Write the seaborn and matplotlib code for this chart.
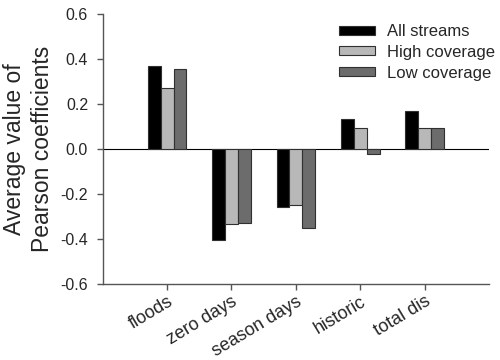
import matplotlib
matplotlib.use("Agg")
import matplotlib.pyplot as plt
import seaborn as sns
import pandas as pd

categories = ["floods", "zero days", "season days", "historic", "total dis"]
series_names = ["All streams", "High coverage", "Low coverage"]
all_streams = [0.370, -0.403, -0.256, 0.135, 0.167]
high_coverage = [0.271, -0.332, -0.247, 0.095, 0.092]
low_coverage = [0.356, -0.328, -0.353, -0.024, 0.095]
yticks = [-0.6, -0.4, -0.2, 0.0, 0.2, 0.4, 0.6]

rows = []
for name, vals in zip(series_names, [all_streams, high_coverage, low_coverage]):
    for c, v in zip(categories, vals):
        rows.append({"category": c, "series": name, "value": v})
df = pd.DataFrame(rows)

sns.set_style("ticks")
plt.rcParams["font.family"] = ["Liberation Sans", "DejaVu Sans"]

fig = plt.figure(figsize=(5, 3.6), dpi=100)
ax = fig.add_axes([0.2054, 0.211, 0.7726, 0.75])

palette = {"All streams": "#000000", "High coverage": "#b8b8b8", "Low coverage": "#6c6c6c"}
sns.barplot(data=df, x="category", y="value", hue="series", order=categories,
            hue_order=series_names, palette=palette, width=0.6, gap=0,
            edgecolor="#303030", linewidth=0.8, saturation=1, errorbar=None, ax=ax)

ax.axhline(0, color="black", linewidth=0.8, zorder=0.5)
ax.set_xlim(-1, 5)
ax.set_ylim(-0.6, 0.6)
ax.set_yticks(yticks)
ax.set_yticklabels([f"{t:.1f}" for t in yticks], fontsize=11.5)
ax.set_xticks(range(len(categories)))
ax.set_xticklabels(categories, rotation=31, ha="right", rotation_mode="anchor", fontsize=13)
ax.set_xlabel("")
ax.set_ylabel("Average value of\nPearson coefficients", fontsize=16.5, linespacing=1.25)
ax.yaxis.set_label_coords(-0.127, 0.5)

for s in ["top", "right"]:
    ax.spines[s].set_visible(False)
for s in ["left", "bottom"]:
    ax.spines[s].set_color("#555555")
    ax.spines[s].set_linewidth(1.0)
ax.tick_params(axis="both", length=4.5, color="#555555", width=1.0)
ax.tick_params(axis="y", pad=6)
ax.tick_params(axis="x", pad=2)

leg = ax.legend(frameon=False, loc="upper left", bbox_to_anchor=(0.585, 1.0),
                fontsize=12, handlelength=2.2, handleheight=0.45,
                handletextpad=0.7, labelspacing=0.35, borderaxespad=0.2)

fig.savefig("out.png", dpi=100)
